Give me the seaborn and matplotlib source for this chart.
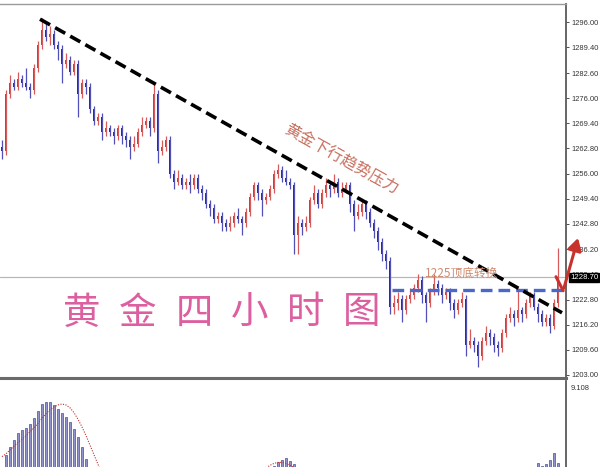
import matplotlib
matplotlib.use("Agg")
import matplotlib.pyplot as plt
import matplotlib.transforms as mtransforms
import numpy as np
import pandas as pd
import seaborn as sns

# ---------------- data ----------------
opens = [1263, 1262, 1277, 1280, 1279, 1281, 1280, 1279, 1278, 1284,
         1290, 1294, 1292, 1293, 1290, 1289, 1285, 1286, 1283, 1285,
         1277, 1280, 1279, 1273, 1270, 1271, 1267, 1268, 1267, 1266,
         1268, 1266, 1265, 1263, 1264, 1267, 1269, 1270, 1268, 1277,
         1262, 1263, 1265, 1256, 1254, 1255, 1253, 1254, 1253, 1255,
         1252, 1251, 1248, 1247, 1244, 1245, 1243, 1242, 1243, 1245,
         1244, 1243, 1246, 1250, 1253, 1251, 1249, 1250, 1252, 1256,
         1257, 1255, 1254, 1253, 1240, 1243, 1242, 1243, 1249, 1251,
         1248, 1251, 1253, 1252, 1254, 1251, 1252, 1253, 1248, 1245,
         1246, 1248, 1246, 1243, 1241, 1238, 1235, 1233, 1221, 1222,
         1223, 1220, 1223, 1224, 1226, 1228, 1224, 1222, 1225, 1227,
         1226, 1224, 1225, 1222, 1220, 1222, 1223, 1211, 1212, 1211,
         1208, 1212, 1214, 1213, 1211, 1210, 1214, 1218, 1219, 1218,
         1220, 1219, 1222, 1224, 1221, 1219, 1217, 1218, 1216, 1222]
closes = [1262, 1277, 1280, 1279, 1281, 1280, 1279, 1278, 1284, 1290,
          1294, 1292, 1293, 1290, 1289, 1285, 1286, 1283, 1285, 1277,
          1280, 1279, 1273, 1270, 1271, 1267, 1268, 1267, 1266, 1268,
          1266, 1265, 1263, 1264, 1267, 1269, 1270, 1268, 1277, 1262,
          1263, 1265, 1256, 1254, 1255, 1253, 1254, 1253, 1255, 1252,
          1251, 1248, 1247, 1244, 1245, 1243, 1242, 1243, 1245, 1244,
          1243, 1246, 1250, 1253, 1251, 1249, 1250, 1252, 1256, 1257,
          1255, 1254, 1253, 1240, 1243, 1242, 1243, 1249, 1251, 1248,
          1251, 1253, 1252, 1254, 1251, 1252, 1253, 1248, 1245, 1246,
          1248, 1246, 1243, 1241, 1238, 1235, 1233, 1221, 1222, 1223,
          1220, 1223, 1224, 1226, 1228, 1224, 1222, 1225, 1227, 1226,
          1224, 1225, 1222, 1220, 1222, 1223, 1211, 1212, 1211, 1208,
          1212, 1214, 1213, 1211, 1210, 1214, 1218, 1219, 1218, 1220,
          1219, 1222, 1224, 1221, 1219, 1217, 1218, 1216, 1222, 1228.7]
highs = [1265, 1278, 1282, 1281, 1283, 1282, 1284, 1280, 1285, 1291,
         1297, 1296, 1295, 1294, 1291, 1290, 1288, 1287, 1286, 1286,
         1281, 1281, 1280, 1274, 1272, 1272, 1270, 1269, 1268, 1269,
         1269, 1267, 1266, 1266, 1268, 1271, 1271, 1271, 1280, 1278,
         1265, 1266, 1266, 1257, 1257, 1256, 1255, 1256, 1256, 1256,
         1253, 1252, 1249, 1248, 1246, 1246, 1244, 1245, 1246, 1247,
         1245, 1247, 1251, 1254, 1254, 1252, 1251, 1253, 1257, 1258.5,
         1258, 1257, 1255, 1254, 1245, 1244, 1245, 1250, 1253, 1252,
         1252, 1255, 1254, 1256, 1255, 1254, 1254, 1254, 1249, 1248,
         1249, 1249, 1247, 1244, 1242, 1239, 1236, 1234, 1224, 1225,
         1224, 1224, 1226, 1227, 1229.5, 1229, 1225, 1226, 1229.5, 1228,
         1227, 1226, 1226, 1223, 1223, 1225, 1224, 1215, 1213, 1212,
         1213, 1216, 1215, 1214, 1212, 1215, 1219, 1221, 1220, 1226,
         1221, 1223, 1225, 1225, 1222, 1220, 1219, 1219, 1223, 1236.5]
lows = [1260, 1261, 1276, 1278, 1278, 1279, 1278, 1276, 1277, 1283,
        1289, 1291, 1290, 1289, 1286, 1280, 1284, 1282, 1282, 1271,
        1276, 1277, 1272, 1269, 1269, 1265, 1266, 1266, 1264, 1265,
        1264, 1263, 1260, 1262, 1263, 1266, 1268, 1266, 1267, 1259,
        1261, 1262, 1255, 1252, 1253, 1252, 1252, 1251, 1252, 1251,
        1249, 1247, 1245, 1243, 1243, 1241, 1241, 1241, 1242, 1243,
        1240, 1242, 1245, 1249, 1249, 1245, 1248, 1249, 1251, 1255,
        1254, 1253, 1252, 1235, 1235, 1240, 1241, 1242, 1248, 1247,
        1247, 1250, 1250, 1251, 1250, 1250, 1251, 1246, 1241, 1244,
        1245, 1244, 1242, 1239, 1236, 1233, 1231, 1219, 1219, 1220,
        1217, 1219, 1222, 1223, 1225, 1222, 1217, 1221, 1224, 1224,
        1222, 1223, 1220, 1218, 1219, 1221, 1208, 1210, 1209, 1205,
        1207, 1211, 1211, 1209, 1208, 1209, 1213, 1217, 1216, 1217,
        1217, 1218, 1221, 1220, 1217, 1216, 1216, 1214, 1215, 1221]

price_ticks = [1296.00, 1289.40, 1282.60, 1276.00, 1269.40, 1262.80, 1256.00,
               1249.40, 1242.80, 1236.20, 1229.40, 1222.80, 1216.20, 1209.60, 1203.00]
last_price = 1228.70
support_level = 1225.5
trend_x = [9.5, 140.0]
trend_y = [1296.8, 1219.4]
support_x = [97.5, 140.0]

# oscillator panel (only the parts visible above the cut)
hist_a_start = 1
hist_a = [1.75, 2.6, 3.3, 4.1, 4.4, 4.6, 5.0, 5.6, 6.4, 7.1, 7.3,
          7.3, 7.0, 6.6, 6.2, 5.7, 5.2, 4.5, 3.7, 2.6, 1.4, 0.4]
hist_b_start = 68
hist_b = [0.6, 1.0, 1.3, 1.45, 1.2, 0.8]
hist_c_start = 132
hist_c = [0.3, 0.5, 0.9, 0.6, 0.8, 1.25, 2.0, 0.9]
signal_a_start = 0
signal_a = [1.6, 1.9, 2.3, 2.7, 3.1, 3.4, 3.8, 4.2, 4.6, 5.1, 5.6, 6.1, 6.5,
            6.8, 7.0, 7.1, 7.0, 6.7, 6.2, 5.5, 4.7, 3.8, 2.8, 1.8, 0.8, -0.2]
signal_b_start = 66
signal_b = [0.4, 0.7, 0.9, 1.0, 1.0, 0.9, 0.7, 0.5]
osc_top_label = 9.108

# ---------------- style ----------------
sns.set_theme(style="white")
plt.rcParams["font.family"] = ["Noto Sans CJK SC", "DejaVu Sans"]
TICK_FONT = "Liberation Sans"

W, H = 600, 467
fig = plt.figure(figsize=(6.0, 4.67), dpi=100)

def fx(px):
    return px / W

def fy(py):
    return 1 - py / H

ax = fig.add_axes([0, fy(378), fx(566), (378 - 4) / H])
ax2 = fig.add_axes([0, fy(472), fx(566), (472 - 381) / H])

df = pd.DataFrame({"open": opens, "high": highs, "low": lows, "close": closes})
df["idx"] = np.arange(len(df))
up = df["close"] >= df["open"]
red, blue = "#e2302c", "#2323c4"

# wicks
ax.vlines(df.loc[up, "idx"], df.loc[up, "low"], df.loc[up, "high"], color="#d85a5a", lw=0.9)
ax.vlines(df.loc[~up, "idx"], df.loc[~up, "low"], df.loc[~up, "high"], color="#5050b8", lw=0.9)
# bodies
body_lo = df[["open", "close"]].min(axis=1)
body_hi = df[["open", "close"]].max(axis=1)
ax.bar(df.loc[up, "idx"], (body_hi - body_lo)[up].clip(lower=0.3), bottom=body_lo[up],
       width=0.62, color=red, linewidth=0)
ax.bar(df.loc[~up, "idx"], (body_hi - body_lo)[~up].clip(lower=0.3), bottom=body_lo[~up],
       width=0.62, color=blue, linewidth=0)

ax.set_xlim(-0.5, 141)
ax.set_ylim(1202.2, 1300.8)

# current price line
ax.axhline(last_price, color="#b8b8b8", lw=0.9, zorder=0)
# trend line
sns.lineplot(x=trend_x, y=trend_y, ax=ax, color="black", lw=2.6,
             linestyle=(0, (3.2, 1.6)), zorder=5)
# support dashed line
ax.plot(support_x, [support_level, support_level], color="#4a68c8", lw=2.4,
        linestyle=(0, (3.5, 1.8)), zorder=4)

# axes styling
ax.yaxis.tick_right()
ax.set_yticks(price_ticks)
ax.set_yticklabels([f"{v:.2f}" for v in price_ticks])
ax.tick_params(axis="y", labelsize=5.4, colors="#333333", length=2.5, width=0.6,
               direction="out", pad=1.5, right=True)
for lab in ax.get_yticklabels():
    lab.set_fontfamily(TICK_FONT)
ax.set_xticks([])
ax.spines["left"].set_visible(False)
ax.spines["top"].set_color("#9a9a9a")
ax.spines["top"].set_linewidth(1.0)
ax.spines["right"].set_color("#5a5a5a")
ax.spines["right"].set_linewidth(1.3)
ax.spines["bottom"].set_color("#6a6a6a")
ax.spines["bottom"].set_linewidth(2.2)

# last price box
trans = mtransforms.blended_transform_factory(ax.transAxes, ax.transData)
ax.text(1.007, last_price, f"{last_price:.2f}", transform=trans, ha="left", va="center",
        color="white", fontsize=5.6, family=TICK_FONT, zorder=10, clip_on=False,
        bbox=dict(facecolor="black", edgecolor="black", pad=0.7))

# red hand-drawn arrow
ax.plot([138.5, 140.3], [1228.9, 1225.2], color="#c8322c", lw=2.2,
        solid_capstyle="round", clip_on=False, zorder=12)
ax.annotate("", xy=(144.2, 1239.8), xytext=(140.3, 1225.2), annotation_clip=False,
            arrowprops=dict(arrowstyle="-|>,head_length=0.6,head_width=0.35",
                            color="#c8322c", lw=2.2), zorder=12)

# annotations
fig.text(fx(341), fy(160), "黄金下行趋势压力", rotation=-29, rotation_mode="anchor",
         ha="center", va="center", fontsize=11.5, color="#c8705f")
fig.text(fx(425), fy(273), "1225顶底转换", ha="left", va="center",
         fontsize=8.5, color="#d08a70")
for ch, cx in zip("黄金四小时图", [82, 138, 194, 250, 306, 362]):
    fig.text(fx(cx), fy(313), ch, ha="center", va="center", fontsize=27,
             color="#dc5fa0", fontweight=100)

# ---------------- oscillator panel ----------------
for start, vals in [(hist_a_start, hist_a), (hist_b_start, hist_b), (hist_c_start, hist_c)]:
    xs = np.arange(start, start + len(vals))
    ax2.bar(xs, vals, width=0.55, color="#9494cc", edgecolor="#4c4c9c", linewidth=0.5)
for start, vals in [(signal_a_start, signal_a), (signal_b_start, signal_b)]:
    sd = pd.DataFrame({"x": np.arange(start, start + len(vals)), "y": vals})
    sns.lineplot(data=sd, x="x", y="y", ax=ax2, color="#c03030", lw=0.8,
                 linestyle=(0, (1, 1.3)))
ax2.set_xlim(-0.5, 141)
ax2.set_ylim(0, 9.5)
ax2.set_xlabel("")
ax2.set_ylabel("")
ax2.set_xticks([])
ax2.yaxis.tick_right()
ax2.set_yticks([osc_top_label])
ax2.set_yticklabels([f"{osc_top_label:.3f}"])
ax2.tick_params(axis="y", labelsize=5.4, colors="#333333", length=0, pad=3)
for lab in ax2.get_yticklabels():
    lab.set_fontfamily(TICK_FONT)
    lab.set_verticalalignment("top")
ax2.spines["left"].set_visible(False)
ax2.spines["top"].set_visible(False)
ax2.spines["bottom"].set_visible(False)
ax2.spines["right"].set_color("#5a5a5a")
ax2.spines["right"].set_linewidth(1.3)

fig.savefig("out.png", dpi=100)
